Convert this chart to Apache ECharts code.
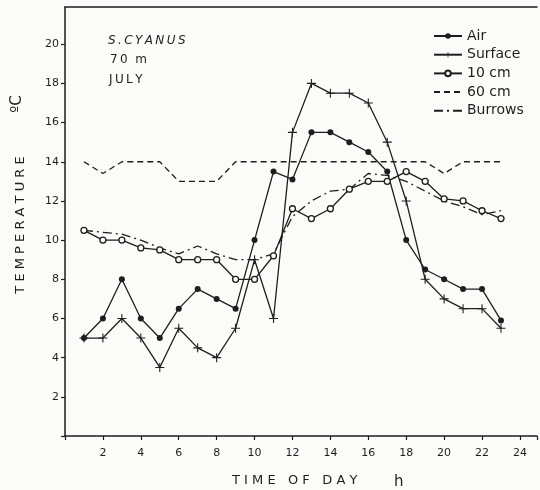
<!DOCTYPE html>
<html><head><meta charset="utf-8">
<script src="https://cdn.jsdelivr.net/npm/echarts@6/dist/echarts.min.js"></script>
<style>html,body{margin:0;padding:0;background:#fbfbfa;}#c{width:540px;height:490px;}</style>
</head><body><div id="c"></div>
<script>
var hours = [1,2,3,4,5,6,7,8,9,10,11,12,13,14,15,16,17,18,19,20,21,22,23];
var air      = [5,6,8,6,5,6.5,7.5,7,6.5,10,13.5,13.1,15.5,15.5,15,14.5,13.5,10,8.5,8,7.5,7.5,5.9];
var surface  = [5,5,6,5,3.5,5.5,4.5,4,5.5,9,6,15.5,18,17.5,17.5,17,15,12,8,7,6.5,6.5,5.5];
var cm10     = [10.5,10,10,9.6,9.5,9,9,9,8,8,9.2,11.6,11.1,11.6,12.6,13,13,13.5,13,12.1,12,11.5,11.1];
var cm60     = [14,13.4,14,14,14,13,13,13,14,14,14,14,14,14,14,14,14,14,14,13.4,14,14,14];
var burrows  = [10.5,10.4,10.3,10,9.6,9.3,9.7,9.3,9,9,9.3,11.2,12,12.5,12.6,13.4,13.3,13,12.5,12,11.7,11.3,11.5];
var seriesNames = ['Air','Surface','10 cm','60 cm','Burrows'];
var yTickLabels = [2,4,6,8,10,12,14,16,18,20];
var xTickLabels = [2,4,6,8,10,12,14,16,18,20,22,24];

function pairs(v){ return hours.map(function(h,i){ return [h, v[i]]; }); }
var ink = '#1e1e1e';
var bg = '#fbfbfa';
var font = 'DejaVu Sans';
var ts = '\u2009';
var plus = 'path://M4.4,0h1.2v4.4h4.4v1.2h-4.4v4.4h-1.2v-4.4h-4.4v-1.2h4.4z';
function spaced(s){ return s.split('').join(ts); }

var chart = echarts.init(document.getElementById('c'));
chart.setOption({
  backgroundColor: bg,
  animation: false,
  grid: {left: 65, right: 0, top: 7, bottom: 54},
  xAxis: [{
    type: 'value', min: 0, max: 24.9, interval: 2,
    axisLine: {show: true, lineStyle: {color: ink, width: 1.5}},
    axisTick: {show: true, length: 4, lineStyle: {color: ink, width: 1.2}},
    splitLine: {show: false},
    axisLabel: {color: ink, fontFamily: font, fontSize: 11, margin: 12,
      formatter: function(v){ return xTickLabels.indexOf(v) >= 0 ? String(v) : ''; }}
  },{
    type: 'value', position: 'top', min: 0, max: 24.9,
    axisLine: {show: true, lineStyle: {color: ink, width: 1.5}},
    axisTick: {show: false}, axisLabel: {show: false}, splitLine: {show: false}
  }],
  yAxis: {
    type: 'value', min: 0, max: 21.9, interval: 2,
    axisLine: {show: true, lineStyle: {color: ink, width: 1.5}},
    axisTick: {show: true, length: 4, lineStyle: {color: ink, width: 1.2}},
    splitLine: {show: false},
    axisLabel: {color: ink, fontFamily: font, fontSize: 11, margin: 6, showMaxLabel: false,
      formatter: function(v){ return yTickLabels.indexOf(v) >= 0 ? String(v) : ''; }}
  },
  legend: {
    orient: 'vertical', left: 428, top: 24, itemWidth: 28, itemHeight: 7, itemGap: 4.7,
    textStyle: {color: ink, fontFamily: font, fontSize: 14, lineHeight: 14},
    data: [
      {name: 'Air'}, {name: 'Surface'}, {name: '10 cm'},
      {name: '60 cm', itemStyle: {color: 'rgba(0,0,0,0)', borderColor: 'rgba(0,0,0,0)', borderWidth: 0}},
      {name: 'Burrows', itemStyle: {color: 'rgba(0,0,0,0)', borderColor: 'rgba(0,0,0,0)', borderWidth: 0}}
    ]
  },
  graphic: [
    {type: 'text', left: 108, top: 35, style: {text: spaced('S.CYANUS'), font: 'italic 12px DejaVu Sans', fill: ink}},
    {type: 'text', left: 110, top: 54, style: {text: spaced('70') + '  m', font: '12px DejaVu Sans', fill: ink}},
    {type: 'text', left: 109, top: 74, style: {text: spaced('JULY'), font: '12px DejaVu Sans', fill: ink}},
    {type: 'text', left: 232, top: 474, style: {text: 'T I M E   O F   D A Y', font: '13px DejaVu Sans', fill: ink}},
    {type: 'text', left: 394, top: 475, style: {text: 'h', font: '15px DejaVu Sans', fill: ink}},
    {type: 'text', x: 21, y: 225, rotation: Math.PI/2, style: {text: 'T E M P E R A T U R E', font: '13px DejaVu Sans', fill: ink, align: 'center', verticalAlign: 'middle'}},
    {type: 'text', x: 17, y: 104, rotation: Math.PI/2, style: {text: 'ºC', font: '15px DejaVu Sans', fill: ink, align: 'center', verticalAlign: 'middle'}}
  ],
  series: [
    {name: 'Air', type: 'line', data: pairs(air), symbol: 'circle', symbolSize: 6,
      lineStyle: {color: ink, width: 1.3}, itemStyle: {color: ink}},
    {name: 'Surface', type: 'line', data: pairs(surface), symbol: plus, symbolSize: 9,
      lineStyle: {color: ink, width: 1.3}, itemStyle: {color: ink}},
    {name: '10 cm', type: 'line', data: pairs(cm10), symbol: 'circle', symbolSize: 6,
      lineStyle: {color: ink, width: 1.3}, itemStyle: {color: bg, borderColor: ink, borderWidth: 1.3}},
    {name: '60 cm', type: 'line', data: pairs(cm60), symbol: 'none',
      lineStyle: {color: ink, width: 1.3, type: [6, 4]}, itemStyle: {color: ink}},
    {name: 'Burrows', type: 'line', data: pairs(burrows), symbol: 'none',
      lineStyle: {color: ink, width: 1.3, type: [9, 4, 2, 4]}, itemStyle: {color: ink}}
  ]
});
</script></body></html>
